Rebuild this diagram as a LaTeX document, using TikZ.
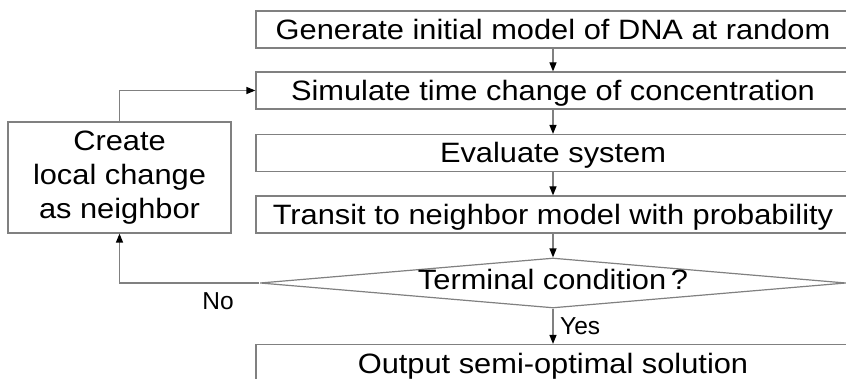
\documentclass[tikz,border=0pt]{standalone}
\usepackage{fontspec}
\setmainfont{Liberation Sans}[FakeStretch=1.1]
\newfontfamily\labelfont{Liberation Sans}
\usetikzlibrary{arrows.meta,shapes.geometric}
\definecolor{linegray}{RGB}{128,128,128}

\begin{document}
\begin{tikzpicture}[x=1pt,y=-1pt,
  line/.style={draw=linegray, line width=1.2pt},
  flow/.style={line, -{Triangle[length=9pt,width=7pt,color=black]}},
  stepbox/.style={line, rectangle, minimum width=594pt, minimum height=37pt,
    inner sep=0pt, text height=20pt, text depth=0pt,
    font=\fontsize{28}{32}\selectfont},
  sidebox/.style={line, rectangle, minimum width=223pt, minimum height=111pt,
    inner sep=0pt, align=center, font=\fontsize{28}{34}\selectfont},
  decision/.style={line, diamond, aspect=11.72, inner sep=0pt,
    text height=20pt, text depth=6pt,
    minimum width=586pt, minimum height=50pt, font=\fontsize{28}{32}\selectfont},
  answer/.style={font=\labelfont\fontsize{24.5}{28}\selectfont, inner sep=0pt}
]
\useasboundingbox (0,0) rectangle (846,379);
\clip (0,0) rectangle (846,379);

% main column of steps
\node[stepbox] (gen)  at (553,29.5)  {Generate initial model of DNA at random};
\node[stepbox] (sim)  at (553,90.5)  {Simulate time change of concentration};
\node[stepbox] (eval) at (553,153)   {Evaluate system};
\node[stepbox] (tran) at (553,214.5) {Transit to neighbor model with probability};
\node[decision] (term) at (553,283)  {Terminal condition\,?};
\node[stepbox] (out)  at (553,363)   {Output semi-optimal solution};

% side step of the loop
\node[sidebox] (loc) at (119.5,177.5) {Create\\local change\\as neighbor};

% connectors
\draw[flow] (gen) -- (sim);
\draw[flow] (sim) -- (eval);
\draw[flow] (eval) -- (tran);
\draw[flow] (tran) -- (term);
\draw[flow] (term) -- (out);
\node[answer, anchor=west] (yes) at (560,326) {Yes};
\draw[flow] (term.west) -| (loc.south);
\node[answer, anchor=north] (no) at (218,292) {No};
\draw[flow] (loc.north) |- (sim.west);
\end{tikzpicture}
\end{document}
